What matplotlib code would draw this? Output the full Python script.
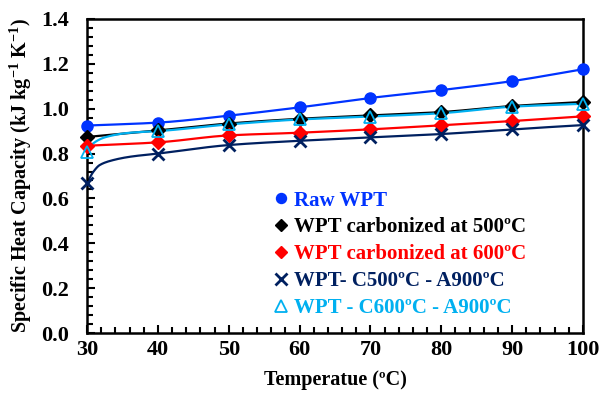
import numpy as np
import matplotlib
matplotlib.use('Agg')
import matplotlib.pyplot as plt
from matplotlib.ticker import MultipleLocator

plt.rcParams['font.family'] = ['Liberation Serif', 'DejaVu Serif']
plt.rcParams['font.weight'] = 'bold'
plt.rcParams['mathtext.fontset'] = 'custom'
plt.rcParams['mathtext.rm'] = 'Liberation Serif:bold'
plt.rcParams['mathtext.bf'] = 'Liberation Serif:bold'
plt.rcParams['mathtext.default'] = 'bf'

# Measured values at the marker temperatures
temps = [30, 40, 50, 60, 70, 80, 90, 100]
raw_wpt = [0.925, 0.938, 0.969, 1.006, 1.048, 1.083, 1.123, 1.176]
c500 = [0.874, 0.903, 0.934, 0.955, 0.970, 0.985, 1.012, 1.030]
c600 = [0.835, 0.850, 0.881, 0.893, 0.908, 0.926, 0.945, 0.966]
c500_a900 = [0.670, 0.800, 0.838, 0.857, 0.872, 0.887, 0.908, 0.927]
c600_a900 = [0.808, 0.900, 0.930, 0.952, 0.965, 0.980, 1.009, 1.022]

x_early = [30.9, 31.8, 33.7, 36.1]
c500_a900_early = [0.719, 0.749, 0.771, 0.786]
x_early_c = [30.9, 32.8, 36.1]
c600_a900_early = [0.846, 0.875, 0.893]

labels = ['Raw WPT', 'WPT carbonized at 500ºC', 'WPT carbonized at 600ºC',
          'WPT- C500ºC - A900ºC', 'WPT - C600ºC - A900ºC']
colors = ['#0033FF', '#000000', '#FF0000', '#002060', '#00B0F0']


def smooth(x, y, n=400):
    # monotone cubic (Fritsch-Carlson) through the given points
    x = np.asarray(x, float)
    y = np.asarray(y, float)
    h = np.diff(x)
    d = np.diff(y) / h
    m = np.zeros_like(y)
    m[0], m[-1] = d[0], d[-1]
    for i in range(1, len(x) - 1):
        if d[i - 1] * d[i] > 0:
            w1 = 2 * h[i] + h[i - 1]
            w2 = h[i] + 2 * h[i - 1]
            m[i] = (w1 + w2) / (w1 / d[i - 1] + w2 / d[i])
    xs = np.linspace(x[0], x[-1], n)
    k = np.clip(np.searchsorted(x, xs) - 1, 0, len(x) - 2)
    t = (xs - x[k]) / h[k]
    h00 = 2 * t**3 - 3 * t**2 + 1
    h10 = t**3 - 2 * t**2 + t
    h01 = -2 * t**3 + 3 * t**2
    h11 = t**3 - t**2
    ys = h00 * y[k] + h10 * h[k] * m[k] + h01 * y[k + 1] + h11 * h[k] * m[k + 1]
    return xs, ys


fig = plt.figure(figsize=(6.03, 3.94), dpi=100)
ax = fig.add_axes([0.1443, 0.1548, 0.8225, 0.797])

line_x = [temps, temps, temps,
          [temps[0]] + x_early + temps[1:],
          [temps[0]] + x_early_c + temps[1:]]
line_y = [raw_wpt, c500, c600,
          [c500_a900[0]] + c500_a900_early + c500_a900[1:],
          [c600_a900[0]] + c600_a900_early + c600_a900[1:]]
series = [raw_wpt, c500, c600, c500_a900, c600_a900]
markers = ['o', 'D', 'D', 'x', '^']
msizes = [8, 7, 7, 9, 9]

for i in range(5):
    xs, ys = smooth(line_x[i], line_y[i])
    ax.plot(xs, ys, color=colors[i], lw=1.6, zorder=2 + i * 0.1)

handles = []
for i in range(5):
    if markers[i] == '^':
        h, = ax.plot(temps, series[i], ls='none', marker='^', ms=msizes[i],
                     mfc='none', mec=colors[i], mew=1.3, zorder=5, clip_on=False)
    elif markers[i] == 'x':
        h, = ax.plot(temps, series[i], ls='none', marker='x', ms=msizes[i],
                     mec=colors[i], mew=2, zorder=4, clip_on=False)
    else:
        h, = ax.plot(temps, series[i], ls='none', marker=markers[i], ms=msizes[i],
                     mfc=colors[i], mec=colors[i], zorder=4, clip_on=False)
    handles.append(h)

ax.set_xlim(30, 100)
ax.set_ylim(0, 1.4)
ax.xaxis.set_major_locator(MultipleLocator(10))
ax.xaxis.set_minor_locator(MultipleLocator(2))
ax.yaxis.set_major_locator(MultipleLocator(0.2))
ax.yaxis.set_minor_locator(MultipleLocator(0.04))
ax.yaxis.set_major_formatter(plt.FuncFormatter(lambda v, p: f'{v:.1f}'))
ax.tick_params(which='both', direction='in', width=1.5, labelsize=16)
ax.tick_params(which='major', length=6, pad=5)
ax.tick_params(axis='y', which='major', pad=13)
ax.tick_params(which='minor', length=4)
for s in ax.spines.values():
    s.set_linewidth(1.8)

ax.set_xlabel('Temperatue (ºC)', fontsize=14.5, fontweight='bold', labelpad=7)
ax.set_ylabel('Specific Heat Capacity (kJ kg$^{-1}$ K$^{-1}$)', fontsize=14.5,
              fontweight='bold', labelpad=5)

leg = ax.legend(handles, labels, loc='upper left', bbox_to_anchor=(0.362, 0.48),
                frameon=False, fontsize=15, handlelength=0.6, handletextpad=0.3,
                labelspacing=0.33, borderaxespad=0, labelcolor=colors,
                markerscale=0.9)

fig.savefig('out.png', dpi=100)
